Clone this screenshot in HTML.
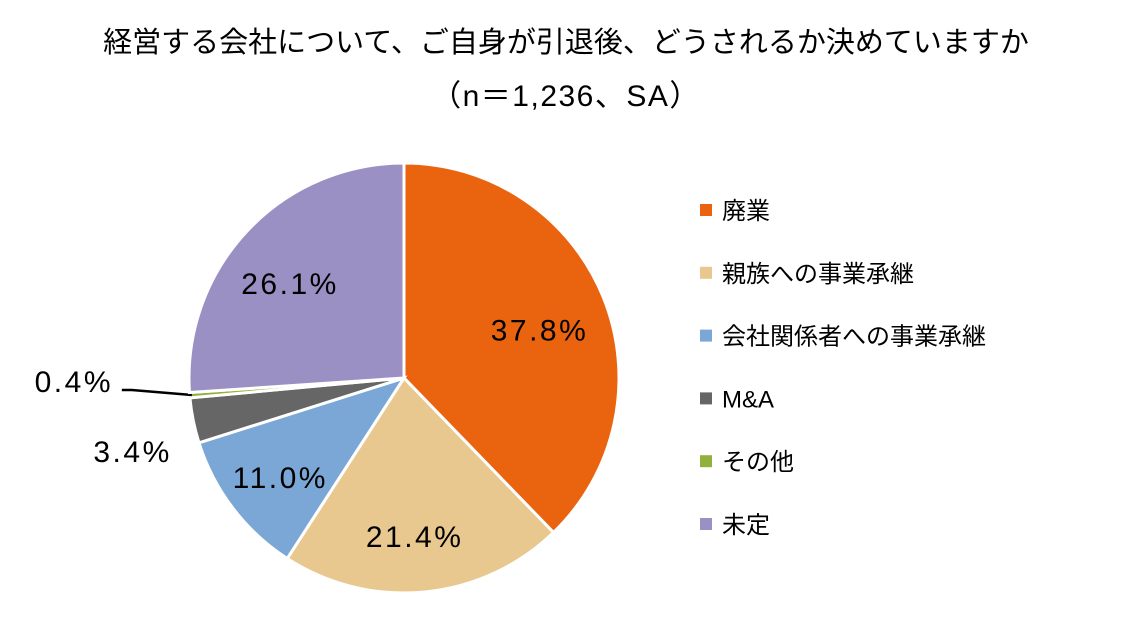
<!DOCTYPE html>
<html><head><meta charset="utf-8"><style>
body{margin:0;background:#fff;width:1127px;height:629px;overflow:hidden;font-family:"Liberation Sans","Noto Sans CJK JP",sans-serif;}
</style></head><body>
<svg width="1127" height="629" style="position:absolute;left:0;top:0">
<text x="566" y="52" text-anchor="middle" font-size="29" fill="#000">経営する会社について、ご自身が引退後、どうされるか決めていますか</text>
<text x="566" y="106" text-anchor="middle" font-size="30" letter-spacing="1.5" fill="#000">（n＝1,236、SA）</text>
<g id="pie"></g><g id="legend"></g>
</svg>
<script>
const categories=["廃業","親族への事業承継","会社関係者への事業承継","M&A","その他","未定"];
const values=[37.8,21.4,11.0,3.4,0.4,26.1];
const colors=["#EA6410","#E8C88E","#7BA7D6","#666666","#92B13C","#9A90C4"];
const NS="http://www.w3.org/2000/svg";
const cx=404,cy=378,R=215;
const pie=document.getElementById('pie'),leg=document.getElementById('legend');
const total=values.reduce((a,b)=>a+b,0);
function pt(a,r){return [cx+r*Math.cos(a),cy+r*Math.sin(a)];}
let acc=0;
values.forEach((v,i)=>{
 const a0=-Math.PI/2+acc/total*2*Math.PI; acc+=v;
 const a1=-Math.PI/2+acc/total*2*Math.PI;
 const p0=pt(a0,R),p1=pt(a1,R);
 const large=(a1-a0)>Math.PI?1:0;
 const p=document.createElementNS(NS,'path');
 p.setAttribute('d',`M${cx},${cy}L${p0[0]},${p0[1]}A${R},${R} 0 ${large} 1 ${p1[0]},${p1[1]}Z`);
 p.setAttribute('fill',colors[i]);p.setAttribute('stroke','#fff');p.setAttribute('stroke-width','3');
 
 
 pie.appendChild(p);
 const am=(a0+a1)/2;
 let lp;
 if(v>=5){lp=pt(am,R*0.7);lp[1]+=8;lp[0]-=4;}
 else if(v>=1){lp=pt(am,R*1.25);lp[1]+=20;lp[0]-=8;}
 else{
  const e=pt(am,R*0.99);
  const l=document.createElementNS(NS,'polyline');
  l.setAttribute('points',`${e[0]},${e[1]} ${e[0]-60},${e[1]-5} ${e[0]-70},${e[1]-5}`);
  l.setAttribute('fill','none');l.setAttribute('stroke','#000');l.setAttribute('stroke-width','2.5');
  
  
  pie.appendChild(l);
  lp=[e[0]-118,e[1]-14];
 }
 const t=document.createElementNS(NS,'text');
 t.setAttribute('x',lp[0]);t.setAttribute('y',lp[1]+11);t.setAttribute('text-anchor','middle');
 t.setAttribute('font-size','30');t.setAttribute('letter-spacing','2.5');t.setAttribute('fill','#000');
 t.textContent=v.toFixed(1)+'%';
 
 
 pie.appendChild(t);
});
categories.forEach((c,i)=>{
 const y=210+i*62.8;
 const r=document.createElementNS(NS,'rect');
 r.setAttribute('x',700);r.setAttribute('y',y-6);r.setAttribute('width',12);r.setAttribute('height',12);r.setAttribute('fill',colors[i]);
 
 
 leg.appendChild(r);
 const t=document.createElementNS(NS,'text');
 t.setAttribute('x',722);t.setAttribute('y',y+9);t.setAttribute('font-size','24');t.setAttribute('fill','#000');
 t.textContent=c;
 
 
 leg.appendChild(t);
});
</script>
</body></html>
